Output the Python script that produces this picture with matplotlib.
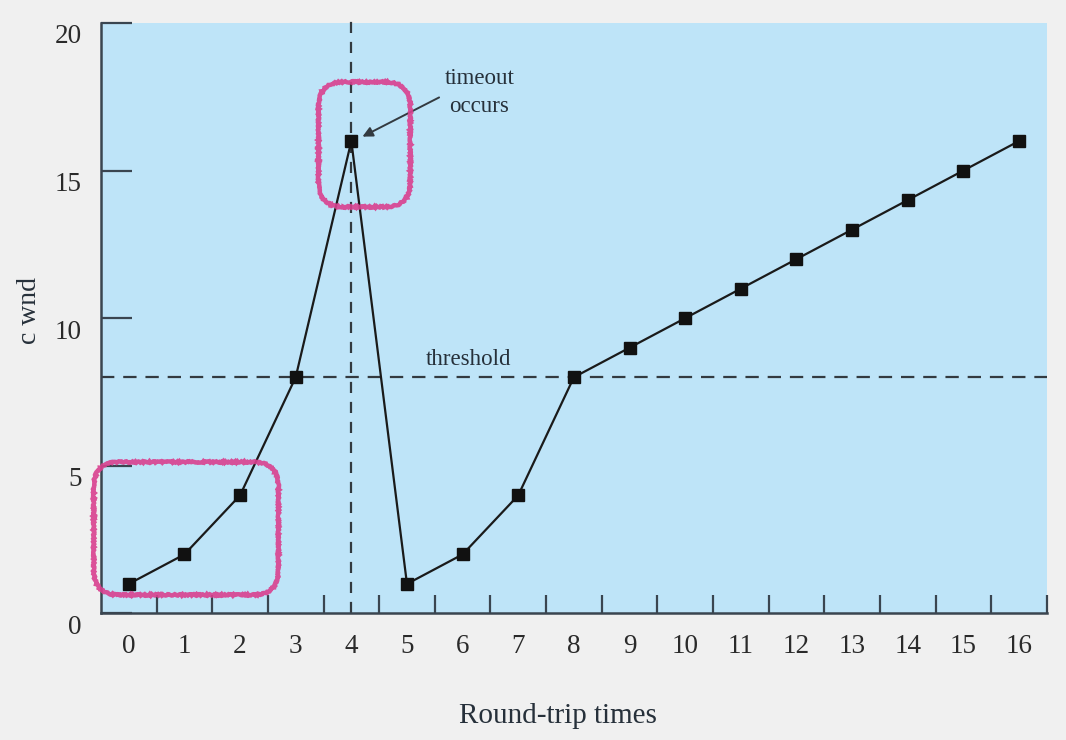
import matplotlib
matplotlib.use("Agg")
import matplotlib.pyplot as plt
import matplotlib.transforms as mtransforms
from matplotlib.patches import FancyBboxPatch

# data
rtt = list(range(17))
cwnd = [1, 2, 4, 8, 16, 1, 2, 4, 8, 9, 10, 11, 12, 13, 14, 15, 16]
threshold = 8
timeout_at = 4
y_ticks = [0, 5, 10, 15, 20]

plt.rcParams['font.family'] = ['Liberation Serif', 'DejaVu Serif']

fig = plt.figure(figsize=(10.66, 7.40), dpi=100, facecolor='#f0f0f0')
ax = fig.add_axes([0.0947, 0.171, 0.8873, 0.798])
ax.set_facecolor('#bee4f8')

ink = '#26303a'

ax.plot(rtt, cwnd, color='#1a1a1a', lw=1.6, marker='s', markersize=8,
        markerfacecolor='#111111', markeredgecolor='#111111', zorder=4)

# threshold and timeout lines
ax.axhline(threshold, color='#333a40', lw=1.6, dashes=(6, 4), zorder=2)
ax.axvline(timeout_at, color='#333a40', lw=1.6, dashes=(5, 4), zorder=2,
           ymax=1.005, clip_on=False)

ax.text(6.1, 8.6, 'threshold', ha='center', va='center', fontsize=16.5, color=ink)
ax.annotate('timeout\noccurs', xy=(4.2, 16.15), xytext=(6.3, 17.65),
            ha='center', va='center', fontsize=16.5, color=ink, linespacing=1.4,
            arrowprops=dict(arrowstyle='-|>', color='#333a40', lw=1.4,
                            mutation_scale=15, shrinkA=2, shrinkB=0,
                            relpos=(0.0, 0.45)))

# hand drawn highlight boxes
pink = '#d9408f'
for (x0, y0, w, h) in [(-0.63, 0.63, 3.32, 4.5), (3.41, 13.77, 1.65, 4.23)]:
    box = FancyBboxPatch((x0, y0), w, h,
                         boxstyle='round,pad=0,rounding_size=0.45',
                         mutation_aspect=1.886, fill=False, edgecolor=pink,
                         lw=3.2, alpha=0.9, clip_on=False, zorder=5)
    box.set_sketch_params(scale=0.7, length=2, randomness=4)
    ax.add_patch(box)

ax.set_xlim(-0.5, 16.5)
ax.set_ylim(0, 20)

ax.set_xticks(rtt)
ax.set_xticks([i + 0.5 for i in rtt], minor=True)
ax.tick_params(axis='x', which='major', length=0, pad=15, labelsize=19.5, labelcolor='#2a2a2a')
ax.tick_params(axis='x', which='minor', direction='in', length=13, width=1.6, color='#3a4550')
ax.set_yticks(y_ticks)
ax.tick_params(axis='y', direction='in', length=22, width=1.6, color='#3a4550',
               pad=14, labelsize=19.5, labelcolor='#2a2a2a')
offset = mtransforms.ScaledTranslation(0, -0.11, fig.dpi_scale_trans)
for lab in ax.get_yticklabels():
    lab.set_transform(lab.get_transform() + offset)

for side in ['top', 'right']:
    ax.spines[side].set_visible(False)
for side in ['left', 'bottom']:
    ax.spines[side].set_color('#3a4550')
    ax.spines[side].set_linewidth(1.8)

ax.set_xlabel('Round-trip times', fontsize=21, color=ink, va='center')
ax.xaxis.set_label_coords(0.483, -0.173)
fig.text(0.028, 0.58, 'c wnd', rotation=90, ha='center', va='center',
         fontsize=20, color=ink)

fig.savefig('out.png', dpi=100, facecolor=fig.get_facecolor())
